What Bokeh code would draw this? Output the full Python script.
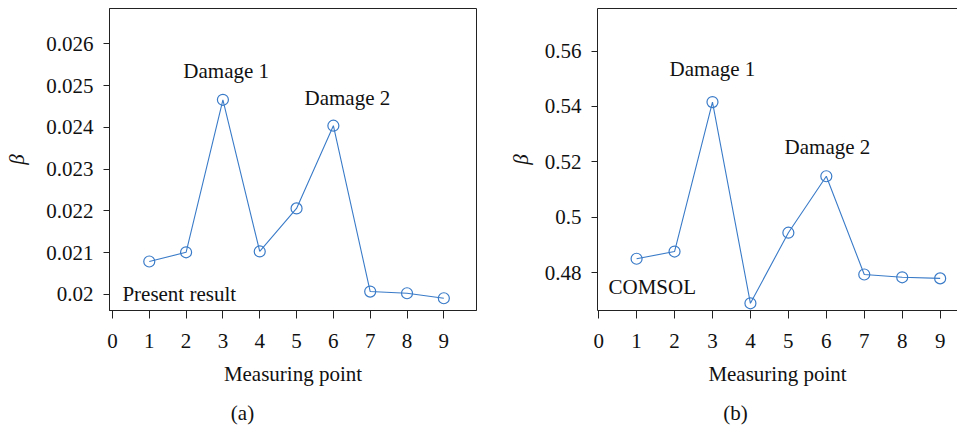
from bokeh.plotting import figure
from bokeh.layouts import row, column
from bokeh.models import Range1d, FixedTicker, Label, LinearAxis
from bokeh.embed import file_html
from bokeh.resources import INLINE

points = [1, 2, 3, 4, 5, 6, 7, 8, 9]
beta_present = [0.02079, 0.02101, 0.02466, 0.02103, 0.02206, 0.02404, 0.02007, 0.02003, 0.01991]
beta_comsol = [0.4850, 0.4876, 0.5416, 0.4689, 0.4944, 0.5148, 0.4793, 0.4783, 0.4779]

x_ticks = [0, 1, 2, 3, 4, 5, 6, 7, 8, 9]
y_ticks_a = [0.020, 0.021, 0.022, 0.023, 0.024, 0.025, 0.026]
y_labels_a = ["0.02", "0.021", "0.022", "0.023", "0.024", "0.025", "0.026"]
y_ticks_b = [0.48, 0.50, 0.52, 0.54, 0.56]
y_labels_b = ["0.48", "0.5", "0.52", "0.54", "0.56"]
captions = ["(a)", "(b)"]

FONT = "Liberation Serif"
FS = "21px"
BLUE = "#3a7bc8"
DARK = "#222222"
MAIN_H = 400
CAP_H = 26


def make_panel(ys, yticks, ylabels, yrange, xrange, width, left, right, labels,
               outline, beta_standoff):
    p = figure(width=width, height=MAIN_H, output_backend="svg", toolbar_location=None,
               x_range=Range1d(*xrange), y_range=Range1d(*yrange),
               min_border_left=left, min_border_right=right, min_border_top=8,
               min_border_bottom=90, background_fill_color="white", border_fill_color="white")
    p.grid.visible = False
    p.outline_line_color = DARK if outline else None
    p.line(points, ys, line_color=BLUE, line_width=1.1)
    p.scatter(points, ys, marker="circle", size=11, fill_color=None, line_color=BLUE, line_width=1.2)

    xa = p.xaxis[0]
    xa.ticker = FixedTicker(ticks=x_ticks)
    xa.major_label_overrides = {t: str(t) for t in x_ticks}
    xa.minor_tick_line_color = None
    xa.major_tick_in = 0
    xa.major_tick_out = 8
    xa.major_label_standoff = 15
    xa.axis_label = "Measuring point"
    xa.axis_label_standoff = 11
    ya = p.yaxis[0]
    ya.ticker = FixedTicker(ticks=yticks)
    ya.major_label_overrides = {t: l for t, l in zip(yticks, ylabels)}
    ya.minor_tick_line_color = None
    ya.major_tick_in = 0
    ya.major_tick_out = 6
    ya.major_label_standoff = 10
    ya.axis_label = "β"
    ya.axis_label_standoff = beta_standoff
    ya.axis_label_text_font_style = "italic"
    xa.axis_label_text_font_style = "normal"
    for ax in (xa, ya):
        ax.axis_line_color = DARK
        ax.major_tick_line_color = DARK
        ax.major_label_text_font = FONT
        ax.major_label_text_font_size = FS
        ax.major_label_text_color = "#111111"
        ax.axis_label_text_font = FONT
        ax.axis_label_text_font_size = FS
        ax.axis_label_text_color = "#111111"
    if not outline:
        top = LinearAxis(ticker=FixedTicker(ticks=[]), major_label_text_font_size="0px",
                         major_tick_line_color=None, minor_tick_line_color=None,
                         axis_line_color=DARK)
        p.add_layout(top, "above")

    for txt, x, y, align in labels:
        p.add_layout(Label(x=x, y=y, text=txt, text_align=align, text_baseline="middle",
                           text_font=FONT, text_font_size=FS, text_color="#111111"))
    return p


def make_caption(text, width, cx):
    c = figure(width=width, height=CAP_H, output_backend="svg", toolbar_location=None,
               x_range=Range1d(0, width), y_range=Range1d(0, CAP_H),
               min_border=0, background_fill_color="white", border_fill_color="white")
    c.axis.visible = False
    c.grid.visible = False
    c.outline_line_color = None
    c.add_layout(Label(x=cx, y=CAP_H - 12, text=text, text_align="center", text_baseline="middle",
                       text_font=FONT, text_font_size=FS, text_color="#111111"))
    return c


p1 = make_panel(beta_present, y_ticks_a, y_labels_a, (0.019617, 0.026845), (-0.08, 9.887),
                478, 109, 2,
                [("Damage 1", 3.09, 0.02536, "center"), ("Damage 2", 6.38, 0.02471, "center"),
                 ("Present result", 0.27, 0.02002, "left")],
                True, 14)
p2 = make_panel(beta_comsol, y_ticks_b, y_labels_b, (0.4663, 0.5754), (-0.03, 9.457),
                479, 119, 0,
                [("Damage 1", 3.0, 0.5534, "center"), ("Damage 2", 6.03, 0.5255, "center"),
                 ("COMSOL", 0.26, 0.4749, "left")],
                False, 9)
c1 = make_caption(captions[0], 478, 242)
c2 = make_caption(captions[1], 479, 257)

layout = column(row(p1, p2), row(c1, c2))
open("out.html", "w").write(file_html(layout, INLINE))
